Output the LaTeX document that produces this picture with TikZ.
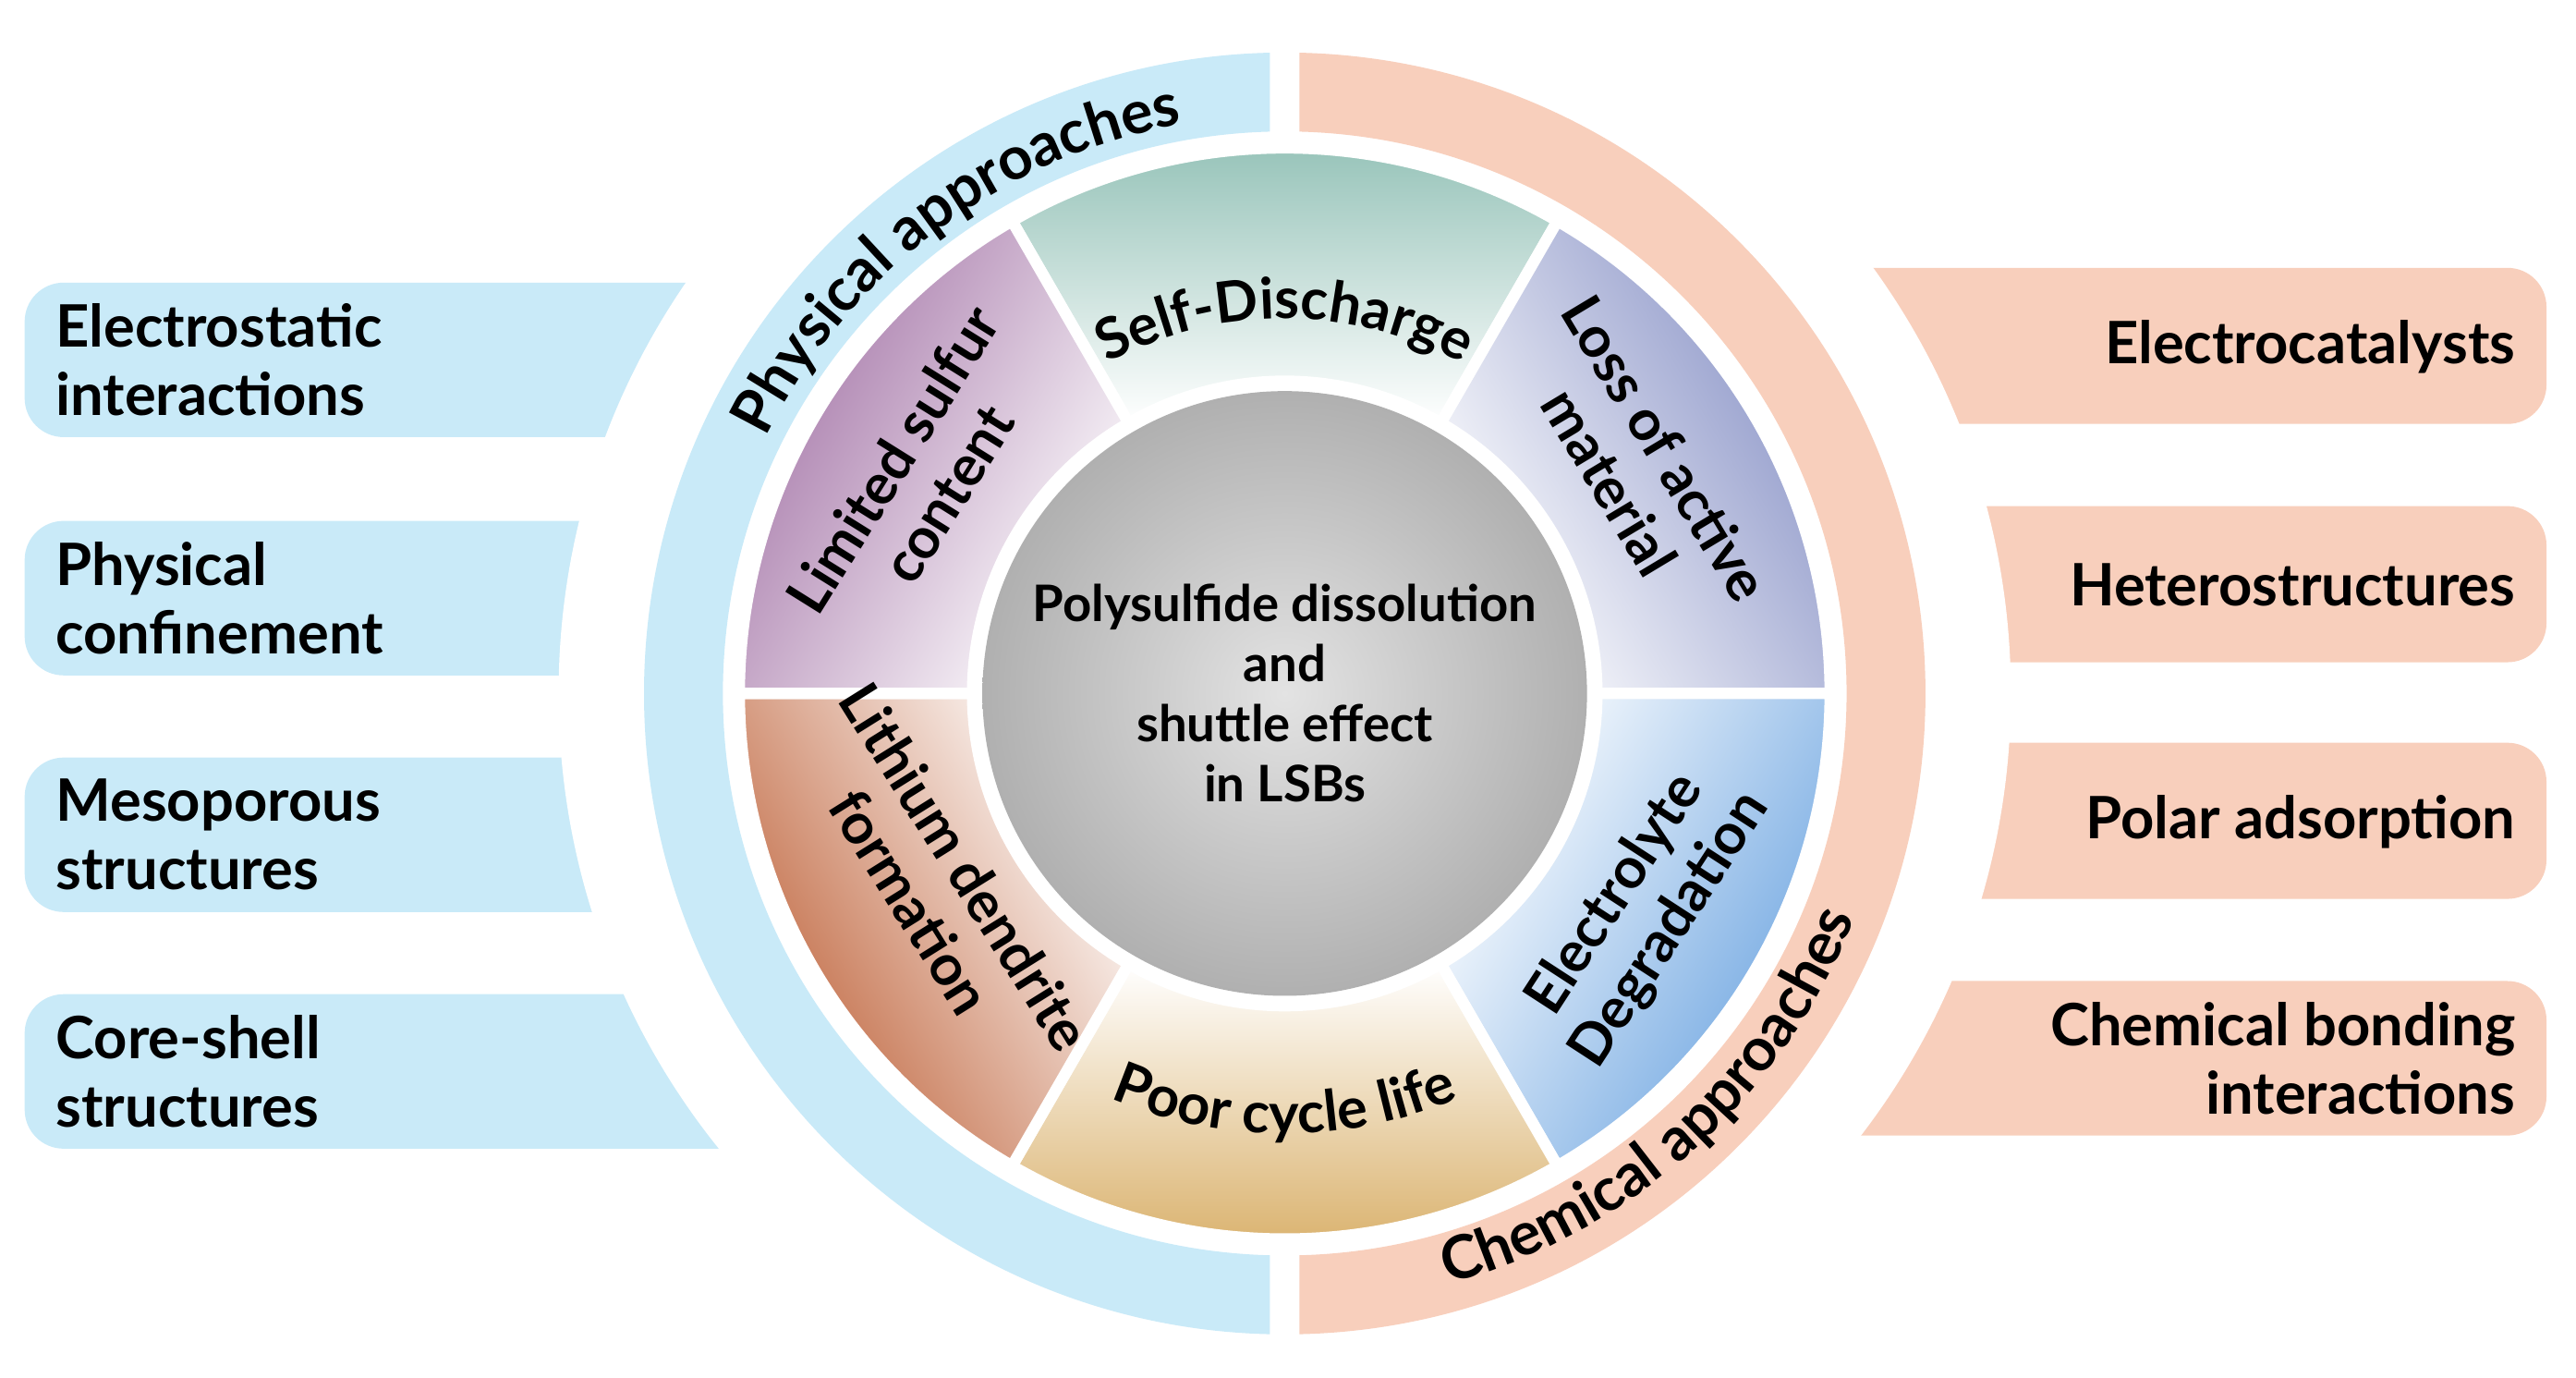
\documentclass[tikz,border=0pt]{standalone}
\usepackage{fontspec}
\setmainfont{Lato}
\usetikzlibrary{calc,decorations.text}
\definecolor{pblue}{HTML}{C9EAF8}
\definecolor{porange}{HTML}{F8CFBC}
\begin{document}
\begin{tikzpicture}[x=0.01778cm,y=0.01778cm,
  box/.style={rounded corners=12pt},
  lbl/.style={font=\fontsize{18}{21}\selectfont\bfseries,align=left,anchor=west},
  rbl/.style={font=\fontsize{18}{21}\selectfont\bfseries,align=right,anchor=east},
  seg/.style={font=\fontsize{17.5}{20}\selectfont\bfseries,align=center},
  segp/.style={draw=white,line width=3.5pt}]
\useasboundingbox (0,0) rectangle (1568,838);
\coordinate (C) at (782,416);
% side boxes
\foreach \a/\b in {572/666,427/521,283/377,139/233}
  \fill[pblue,box] (15,\a) rectangle (600,\b);
\foreach \a/\b in {580/675,435/530,291/386,147/241}
  \fill[porange,box] (964,\a) rectangle (1550,\b);
\fill[white] (C) circle (442);
\node[lbl] (b1) at (27,619) {Electrostatic\\interactions};
\node[lbl] (b2) at (27,474) {Physical\\confinement};
\node[lbl] (b3) at (27,330) {Mesoporous\\structures};
\node[lbl] (b4) at (27,186) {Core-shell\\structures};
\node[rbl] (r1) at (1538,627) {Electrocatalysts};
\node[rbl] (r2) at (1538,482) {Heterostructures};
\node[rbl] (r3) at (1538,338) {Polar adsorption};
\node[rbl] (r4) at (1538,194) {Chemical bonding\\interactions};
% ring
\begin{scope}
\clip (0,0) rectangle (773,838);
\fill[pblue,even odd rule] (C) circle (390) (C) circle (342);
\end{scope}
\begin{scope}
\clip (791,0) rectangle (1568,838);
\fill[porange,even odd rule] (C) circle (390) (C) circle (342);
\end{scope}
\path[decorate,decoration={text along path,text align=center,
  text={|\fontsize{18.5}{20}\selectfont\bfseries|Physical approaches}}]
  ($(C)+(160:352)$) arc[start angle=160,end angle=94,radius=352];
\path[decorate,decoration={text along path,text align=center,
  text={|\fontsize{18.5}{20}\selectfont\bfseries|Chemical approaches}}]
  ($(C)+(262:373)$) arc[start angle=262,end angle=362,radius=373];
% segments
\foreach \a/\col in {60/8FBFB4,0/8892C6,300/6AA3E0,240/D8AE66,180/BE6138,120/A373A6}{
  \definecolor{tmp}{HTML}{\col}
  \pgfmathsetmacro\b{\a+60}
  \pgfmathsetmacro\m{\a+30-90}
  \path[segp,top color=tmp,bottom color=white,shading angle=\m]
    ($(C)+(\a:332)$) arc[start angle=\a,end angle=\b,radius=332]
    -- ($(C)+(\b:190)$) arc[start angle=\b,end angle=\a,radius=190] -- cycle;
}
\shade[inner color=gray!22,outer color=gray!62] (C) circle (184);
\node[seg,font=\fontsize{15.5}{18.5}\selectfont\bfseries] (c) at (C) {Polysulfide dissolution\\and\\shuttle effect\\in LSBs};
\path[decorate,decoration={text along path,text align=center,
  text={|\fontsize{17.5}{20}\selectfont\bfseries|Self-Discharge}}]
  ($(C)+(130:228)$) arc[start angle=130,end angle=50,radius=228];
\path[decorate,decoration={text along path,text align=center,
  text={|\fontsize{17.5}{20}\selectfont\bfseries|Poor cycle life}}]
  ($(C)+(233:268)$) arc[start angle=233,end angle=307,radius=268];
\node[seg,rotate=-59] (s1) at (997,555) {Loss of active\\material};
\node[seg,rotate=58] (s2) at (560,548) {Limited sulfur\\content};
\node[seg,rotate=-58] (s3) at (571,300) {Lithium dendrite\\formation};
\node[seg,rotate=57] (s4) at (1000,283) {Electrolyte\\Degradation};
\end{tikzpicture}
\end{document}
